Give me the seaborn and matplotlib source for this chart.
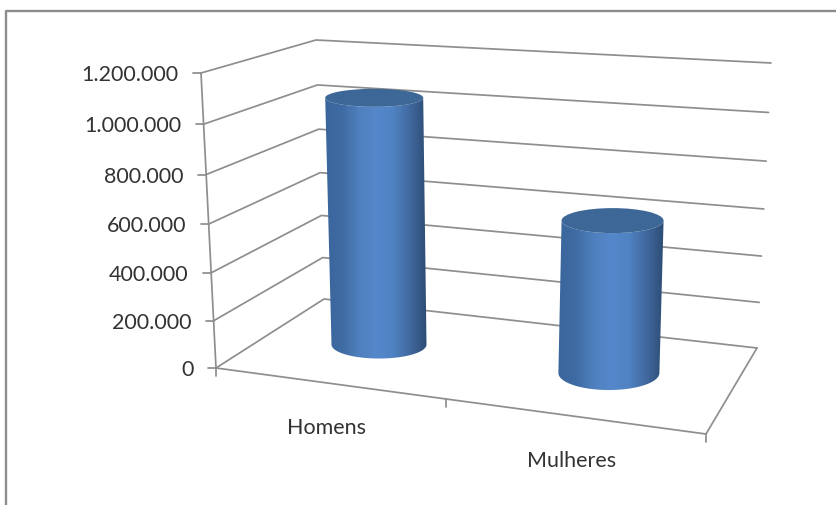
import numpy as np
import matplotlib
matplotlib.use("Agg")
import matplotlib.pyplot as plt
from matplotlib.patches import Ellipse, PathPatch
from matplotlib.path import Path
import seaborn as sns

# dados
categorias = ["Homens", "Mulheres"]
valores = [1055000, 632000]
valores_eixo = [0, 200000, 400000, 600000, 800000, 1000000, 1200000]
rotulos_eixo = ["0", "200.000", "400.000", "600.000", "800.000", "1.000.000", "1.200.000"]

# caixa 3D em pixels da imagem (frente/fundo, chao/topo)
CHAO = {"fe": (216, 368), "fd": (706, 434), "te": (324, 299), "td": (757, 348)}
TOPO = {"fe": (201, 73), "fd": (720, 109), "te": (316, 40), "td": (771, 63)}
VALOR_MAX = 1200000
CURVA = 1.05

POS_CAT = [0.23, 0.73]
PROF_CAT = 0.53
RAIO_X = [(47.5, 49), (50.5, 51)]   # base, topo
RAIO_Y = [(14, 9), (17, 12.5)]

COR_LINHA = "#8e8e8e"
COR_TEXTO = "#333333"
COR_TAMPA = "#3d6796"

sns.set_theme(style="white")
plt.rcParams["font.family"] = ["Lato", "DejaVu Sans"]


def bilinear(c, u, d):
    frente = np.array(c["fe"]) * (1 - u) + np.array(c["fd"]) * u
    fundo = np.array(c["te"]) * (1 - u) + np.array(c["td"]) * u
    return frente * (1 - d) + fundo * d


def projeta(u, d, v):
    f = v / VALOR_MAX
    g = f / (f + (1 - f) * CURVA)
    return bilinear(CHAO, u, d) * (1 - g) + bilinear(TOPO, u, d) * g


def linha(ax, pontos, lw=1.25, cor=COR_LINHA):
    pts = np.array(pontos)
    sns.lineplot(x=pts[:, 0], y=pts[:, 1], sort=False, estimator=None,
                 color=cor, lw=lw, ax=ax, legend=False, zorder=2)


fig, ax = plt.subplots(figsize=(8.36, 5.05), dpi=100)
fig.subplots_adjust(0, 0, 1, 1)
ax.set_xlim(0, 836)
ax.set_ylim(505, 0)
ax.axis("off")

# moldura
linha(ax, [(6, 505), (6, 11), (836, 11)], lw=1.7, cor="#8c8c8c")

# grades das paredes
for v, rot in zip(valores_eixo, rotulos_eixo):
    a = projeta(0, 0, v)
    b = projeta(0, 1, v)
    c = projeta(1, 1, v)
    linha(ax, [a, b, c])
    linha(ax, [a, a - (8, 0)])
    ax.text(a[0] - 22.5, a[1] + 2, rot, ha="right", va="center",
            fontsize=15.5, color=COR_TEXTO)

# eixo vertical e chao
linha(ax, [projeta(0, 0, 0), projeta(0, 0, VALOR_MAX)])
linha(ax, [projeta(0, 0, 0), projeta(1, 0, 0), projeta(1, 1, 0)])
for u in [0, 0.47, 1]:
    p = projeta(u, 0, 0)
    linha(ax, [p, p + (0, 8)])

for u, nome in zip([0.235, 0.735], categorias):
    p = projeta(u, 0, 0)
    ax.text(p[0] - 5, p[1] + 44.5, nome, ha="center", va="center",
            fontsize=15.5, color=COR_TEXTO)

# cilindros
cmap = sns.blend_palette(["#3a669c", "#3f6ba3", "#4f7fbd", "#5588cb", "#5083c3",
                          "#41699f", "#2c4c74"], as_cmap=True)
theta = np.linspace(-np.pi / 2, np.pi / 2, 121)
gradiente = np.linspace(-1, 1, 256)[None, :]
for u, v, rx, ry in zip(POS_CAT, valores, RAIO_X, RAIO_Y):
    base = projeta(u, PROF_CAT, 0)
    topo = projeta(u, PROF_CAT, v)
    contorno = np.vstack([
        np.column_stack([base[0] + rx[0] * np.sin(theta), base[1] + ry[0] * np.cos(theta)]),
        np.column_stack([topo[0] + rx[1] * np.sin(theta[::-1]), topo[1] + ry[1] * np.cos(theta[::-1])]),
    ])
    corpo = PathPatch(Path(np.vstack([contorno, contorno[:1]])), fc="none", ec="none",
                      transform=ax.transData)
    ax.add_patch(corpo)
    x0, x1 = contorno[:, 0].min(), contorno[:, 0].max()
    y0, y1 = contorno[:, 1].min(), contorno[:, 1].max()
    img = ax.imshow(gradiente, cmap=cmap, vmin=-1, vmax=1, aspect="auto",
                    extent=(x0, x1, y1, y0), interpolation="bilinear", zorder=3)
    img.set_clip_path(corpo)
    ax.add_patch(Ellipse(topo, 2 * rx[1], 2 * ry[1], fc=COR_TAMPA, ec="none", zorder=4))

ax.set_xlim(0, 836)
ax.set_ylim(505, 0)
fig.savefig("out.png", dpi=100, facecolor="white")
